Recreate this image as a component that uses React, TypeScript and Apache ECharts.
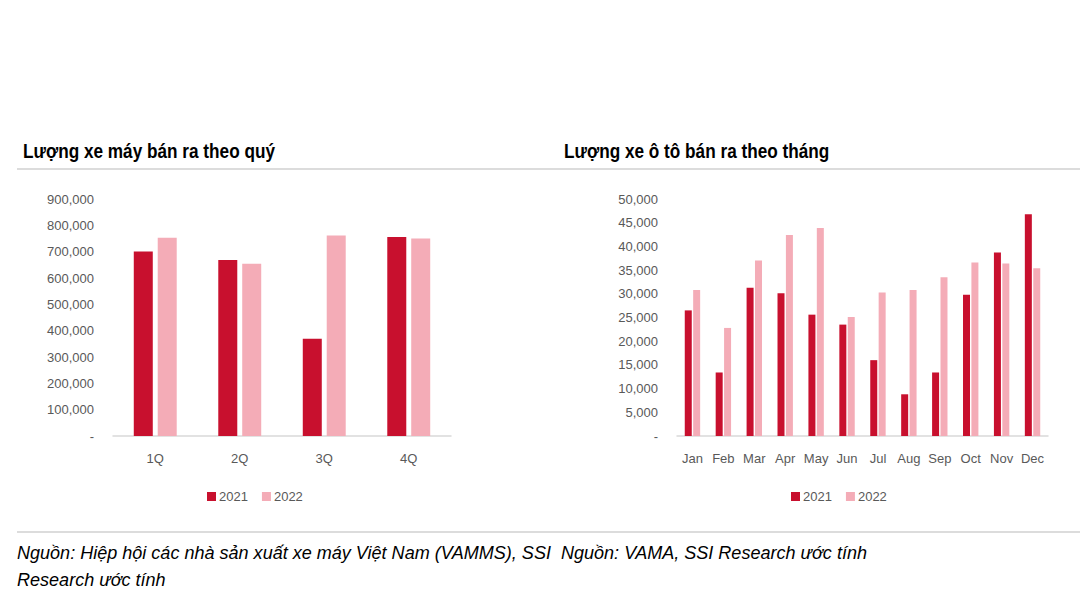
import React, { useEffect, useRef } from "react";
import * as echarts from "echarts";

const quarters = ["1Q", "2Q", "3Q", "4Q"];
const moto2021 = [701000, 668000, 369000, 756000];
const moto2022 = [753000, 654000, 761000, 750000];

const months = ["Jan", "Feb", "Mar", "Apr", "May", "Jun", "Jul", "Aug", "Sep", "Oct", "Nov", "Dec"];
const car2021 = [26500, 13400, 31300, 30100, 25600, 23500, 16000, 8800, 13400, 29800, 38700, 46800];
const car2022 = [30800, 22800, 37000, 42400, 43900, 25100, 30300, 30800, 33500, 36600, 36400, 35400];

const seriesNames = ["2021", "2022"];
const leftTitle = "Lượng xe máy bán ra theo quý";
const rightTitle = "Lượng xe ô tô bán ra theo tháng";
const sourceLine1 = "Nguồn: Hiệp hội các nhà sản xuất xe máy Việt Nam (VAMMS), SSI  Nguồn: VAMA, SSI Research ước tính";
const sourceLine2 = "Research ước tính";

const RED = "#C8102E";
const PINK = "#F4ACB7";
const FONT = "'Liberation Sans Narrow', 'Arial Narrow', 'Liberation Sans', Arial, sans-serif";
const LABEL = "#595959";

const fmt = (v: number) => (v === 0 ? "-" : v.toLocaleString("en-US"));

export default function App() {
  const ref = useRef<HTMLDivElement>(null);
  useEffect(() => {
    if (!ref.current) return;
    const chart = echarts.init(ref.current, undefined, { renderer: "svg" });
    const axisLine = { show: true, lineStyle: { color: "#D9D9D9", width: 1.5 } };
    const yCommon = {
      type: "value" as const,
      min: 0,
      axisLine: { show: false },
      axisTick: { show: false },
      splitLine: { show: false },
      axisLabel: { color: LABEL, fontFamily: FONT, fontSize: 13, margin: 19, formatter: fmt },
    };
    const xCommon = {
      type: "category" as const,
      axisLine,
      axisTick: { show: false },
      axisLabel: { color: LABEL, fontFamily: FONT, fontSize: 13, margin: 16, interval: 0 },
    };
    const legendCommon = {
      data: seriesNames,
      icon: "rect",
      itemWidth: 9,
      itemHeight: 9,
      itemGap: 14,
      top: 485,
      textStyle: { color: LABEL, fontFamily: FONT, fontSize: 13, padding: [0, 0, 0, -2] },
    };
    chart.setOption({
      animation: false,
      color: [RED, PINK],
      grid: [
        { left: 113, top: 199, width: 338, height: 237 },
        { left: 677, top: 199, width: 371, height: 237 },
      ],
      xAxis: [
        { ...xCommon, gridIndex: 0, data: quarters },
        { ...xCommon, gridIndex: 1, data: months },
      ],
      yAxis: [
        { ...yCommon, gridIndex: 0, max: 900000, interval: 100000 },
        { ...yCommon, gridIndex: 1, max: 50000, interval: 5000 },
      ],
      legend: [
        { ...legendCommon, left: 202 },
        { ...legendCommon, left: 786 },
      ],
      series: [
        { name: seriesNames[0], type: "bar", xAxisIndex: 0, yAxisIndex: 0, data: moto2021, barWidth: 19, barGap: "26%", itemStyle: { color: RED } },
        { name: seriesNames[1], type: "bar", xAxisIndex: 0, yAxisIndex: 0, data: moto2022, barWidth: 19, barGap: "26%", itemStyle: { color: PINK } },
        { name: seriesNames[0], type: "bar", xAxisIndex: 1, yAxisIndex: 1, data: car2021, barWidth: 7, barGap: "20%", itemStyle: { color: RED } },
        { name: seriesNames[1], type: "bar", xAxisIndex: 1, yAxisIndex: 1, data: car2022, barWidth: 7, barGap: "20%", itemStyle: { color: PINK } },
      ],
      graphic: [
        { type: "text", x: 23, y: 141, scaleX: 0.86, style: { text: leftTitle, fill: "#000", font: `bold 20px ${FONT}` } },
        { type: "text", x: 564, y: 141, scaleX: 0.86, style: { text: rightTitle, fill: "#000", font: `bold 20px ${FONT}` } },
        { type: "line", shape: { x1: 17, y1: 169, x2: 1080, y2: 169 }, style: { stroke: "#D0D0D0", lineWidth: 1.5 } },
        { type: "line", shape: { x1: 17, y1: 532, x2: 1080, y2: 532 }, style: { stroke: "#D0D0D0", lineWidth: 1.5 } },
        { type: "text", x: 17, y: 543, scaleX: 0.95, style: { text: sourceLine1, fill: "#000", font: `italic 19px ${FONT}` } },
        { type: "text", x: 17, y: 570, scaleX: 0.95, style: { text: sourceLine2, fill: "#000", font: `italic 19px ${FONT}` } },
      ],
    });
    return () => chart.dispose();
  }, []);
  return (
    <div
      ref={ref}
      style={{ position: "fixed", left: 0, top: 0, width: 1080, height: 608, background: "#fff" }}
    />
  );
}
